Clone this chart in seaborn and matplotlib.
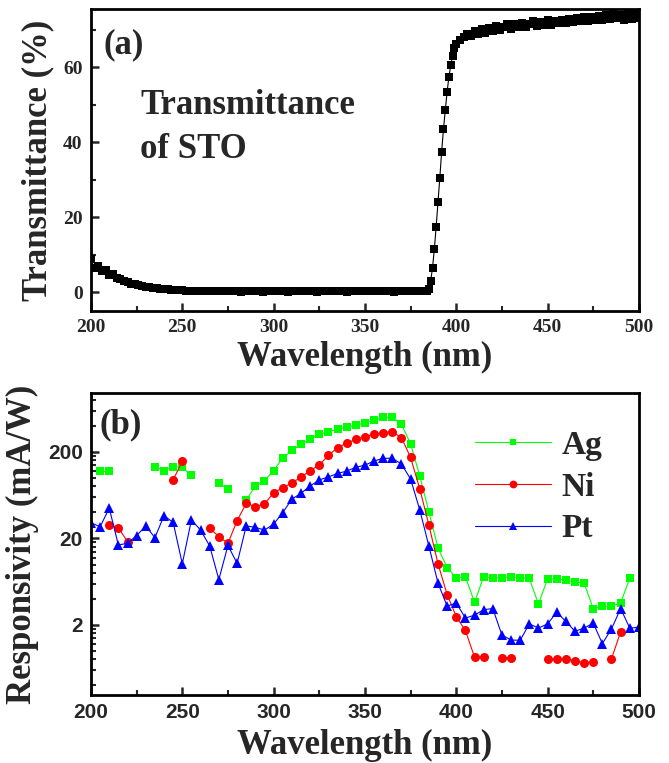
import numpy as np
import pandas as pd
import matplotlib
matplotlib.use("Agg")
import matplotlib.pyplot as plt
import seaborn as sns
from matplotlib.lines import Line2D
from matplotlib.ticker import MultipleLocator, FixedLocator, NullFormatter

# ---- panel (a): transmittance of STO ----
wl_low = np.arange(200, 386, 2)
T_low = [8.8, 6.4, 7.1, 5.6, 5.9, 4.6, 4.8, 3.7, 3.6, 2.9,
         2.8, 2.2, 2.1, 1.8, 1.6, 1.4, 1.3, 1.1, 1.0, 0.9,
         0.8, 0.75, 0.7, 0.6, 0.55, 0.5, 0.45, 0.4, 0.4, 0.35,
         0.35, 0.3, 0.3, 0.3, 0.25, 0.25, 0.2, 0.2, 0.25, 0.2,
         0.2, 0.15, 0.2, 0.2, 0.25, 0.2, 0.2, 0.15, 0.2, 0.2,
         0.2, 0.25, 0.2, 0.2, 0.15, 0.2, 0.2, 0.2, 0.25, 0.2,
         0.2, 0.2, 0.15, 0.2, 0.2, 0.25, 0.2, 0.2, 0.2, 0.2,
         0.15, 0.2, 0.2, 0.25, 0.2, 0.2, 0.2, 0.2, 0.25, 0.2,
         0.2, 0.2, 0.2, 0.15, 0.2, 0.2, 0.25, 0.2, 0.2, 0.2,
         0.25, 0.3, 0.35]
wl_edge = np.arange(385, 401, 1)
T_edge = [0.8, 3.0, 6.5, 11.5, 17.5, 24.0, 30.5, 37.5, 43.5, 48.5,
          53.5, 57.5, 60.5, 63.0, 65.0, 66.3]
wl_high = np.arange(402, 501, 2)
T_high = [67.2, 68.0, 68.8, 68.3, 69.6, 68.8, 70.1, 69.2, 70.4, 69.6,
          71.1, 70.0, 70.7, 71.4, 70.2, 71.6, 70.7, 71.9, 70.8, 71.6,
          72.3, 71.0, 72.1, 71.2, 72.6, 71.3, 72.4, 71.7, 72.7, 71.8,
          72.9, 72.0, 73.1, 72.2, 73.3, 72.3, 73.5, 72.6, 73.7, 72.7,
          73.9, 72.8, 74.1, 73.0, 73.8, 72.6, 74.3, 72.9, 74.4, 73.2]

# ---- panel (b): responsivity (mA/W), 5 nm steps ----
wl_resp = np.arange(200, 501, 5)
nan = np.nan
resp_Ag = [nan, 122, 122, nan, nan, nan, nan, 135, 122, 135,
           133, 108, nan, nan, 88, 74, nan, 56, 80, 93,
           122, 170, 209, 245, 280, 323, 343, 366, 386, 405,
           436, 469, 503, 503, 419, 247, 106, 40.7, 15.6, 9.2,
           7.0, 7.2, 3.66, 7.2, 7.0, 7.0, 7.2, 7.0, 6.9, 3.5,
           6.8, 6.8, 6.6, 6.3, 6.1, 3.1, 3.3, 3.3, 3.6, 6.9,
           nan]
resp_Ni = [nan, nan, 28.7, 26.7, 18.4, nan, nan, nan, nan, 95,
           157, nan, nan, 26.3, 21, 17.6, 32, 51, 46.6, 50,
           67.6, 77, 88, 102, 122, 141, 183, 224, 252, 280,
           301, 320, 334, 343, 292, 173, 75, 28.7, 10.2, 4.5,
           2.5, 1.73, 0.85, 0.85, nan, 0.83, 0.84, nan, nan, nan,
           0.81, 0.81, 0.81, 0.77, 0.73, 0.75, nan, 0.81, 1.67, nan,
           nan]
resp_Pt = [30.4, 27.3, 44.8, 16.8, 17.6, 21.6, 27.9, 20.4, 36.8, 30.6,
           10.2, 32.8, 25.0, 16.4, 6.7, 16.6, 10.3, 27.9, 26.9, 25.0,
           29.3, 39.8, 57, 66.6, 81, 95, 103, 113, 120, 133,
           141, 157, 169, 169, 145, 97, 43, 16.4, 6.1, 3.3,
           3.6, 2.4, 2.6, 3.0, 3.1, 1.53, 1.34, 1.33, 2.06, 1.84,
           2.06, 2.8, 2.2, 1.69, 1.84, 2.1, 1.22, 1.8, 3.1, 1.84,
           1.88]

metals = ["Ag", "Ni", "Pt"]
colors = {"Ag": "#00FF00", "Ni": "#FF0000", "Pt": "#0000FF"}
markers = {"Ag": "s", "Ni": "o", "Pt": "^"}
msize = {"s": 5.6, "o": 6.5, "^": 7.0}
legend_msize = {"s": 4.6, "o": 5.6, "^": 6.0}

wl_T = np.concatenate([wl_low, wl_edge, wl_high])
T = np.array(T_low + T_edge + T_high)

# long table; gaps (missing points) split a series into separate line pieces
frames = []
for name, vals in zip(metals, [resp_Ag, resp_Ni, resp_Pt]):
    d = pd.DataFrame({"wl": wl_resp, "resp": vals, "metal": name})
    d["seg"] = d["resp"].isna().cumsum()
    d = d.dropna()
    d["unit"] = name + d["seg"].astype(str)
    frames.append(d)
resp = pd.concat(frames, ignore_index=True)

sns.set_style("ticks")
plt.rcParams["font.family"] = ["Liberation Serif", "DejaVu Serif"]
plt.rcParams["font.weight"] = "bold"
plt.rcParams["axes.labelweight"] = "bold"
plt.rcParams["axes.linewidth"] = 2.0

fig = plt.figure(figsize=(6.69, 7.63), dpi=100)
ax1 = fig.add_axes([0.136, 0.5924, 0.819, 0.3958])
ax2 = fig.add_axes([0.136, 0.0891, 0.819, 0.3958])

# panel (a)
sns.lineplot(x=wl_T, y=T, ax=ax1, color="black", marker="s", markersize=5.2,
             markeredgewidth=0, linewidth=0.8)
ax1.set_xlim(200, 500)
ax1.set_ylim(-5, 75.5)
ax1.xaxis.set_major_locator(MultipleLocator(50))
ax1.xaxis.set_minor_locator(MultipleLocator(25))
ax1.yaxis.set_major_locator(MultipleLocator(20))
ax1.yaxis.set_minor_locator(MultipleLocator(10))
ax1.set_xlabel("Wavelength (nm)", fontsize=25, labelpad=3)
ax1.set_ylabel("Transmittance (%)", fontsize=25, labelpad=6)
ax1.text(0.022, 0.935, "(a)", transform=ax1.transAxes, fontsize=25, va="top")
ax1.text(0.09, 0.735, "Transmittance\nof STO", transform=ax1.transAxes,
         fontsize=25, va="top", linespacing=1.45)

# panel (b)
ax2.set_yscale("log")
sns.lineplot(data=resp, x="wl", y="resp", hue="metal", style="metal",
             units="unit", estimator=None, palette=colors, markers=markers,
             dashes=False, ax=ax2, legend=False, markersize=6.5,
             markeredgewidth=0, linewidth=0.8)
for line in ax2.lines:
    line.set_markersize(msize.get(line.get_marker(), 6.5))
ax2.set_xlim(200, 500)
ax2.set_ylim(0.31, 960)
ax2.xaxis.set_major_locator(MultipleLocator(50))
ax2.xaxis.set_minor_locator(MultipleLocator(25))
ax2.yaxis.set_major_locator(FixedLocator([2, 20, 200]))
minor = [k * 0.2 * 10 ** e for e in range(0, 4) for k in range(2, 10)]
ax2.yaxis.set_minor_locator(FixedLocator(minor))
ax2.yaxis.set_major_formatter(matplotlib.ticker.FuncFormatter(lambda v, p: f"{v:g}"))
ax2.yaxis.set_minor_formatter(NullFormatter())
ax2.set_xlabel("Wavelength (nm)", fontsize=25, labelpad=5)
ax2.set_ylabel("Responsivity (mA/W)", fontsize=25, labelpad=6)
ax2.text(0.016, 0.95, "(b)", transform=ax2.transAxes, fontsize=25, va="top")

handles = [Line2D([], [], color=colors[m], marker=markers[m],
                  markersize=legend_msize[markers[m]], markeredgewidth=0,
                  linewidth=0.8) for m in metals]
ax2.legend(handles, metals, loc="upper left", bbox_to_anchor=(0.70, 0.878),
           frameon=False, fontsize=24, handlelength=2.3, handletextpad=0.3,
           labelspacing=0.32, borderpad=0, borderaxespad=0)

for ax in (ax1, ax2):
    ax.tick_params(which="both", direction="in", top=False, right=False)
    ax.tick_params(which="major", length=6, width=1.8, pad=6, labelsize=14)
    ax.tick_params(which="minor", length=3.5, width=1.5)
    for s in ax.spines.values():
        s.set_visible(True)
        s.set_linewidth(2.0)
        s.set_color("black")
ax2.tick_params(labelfontfamily="Liberation Sans", labelsize=15)

fig.savefig("out.png", dpi=100)
